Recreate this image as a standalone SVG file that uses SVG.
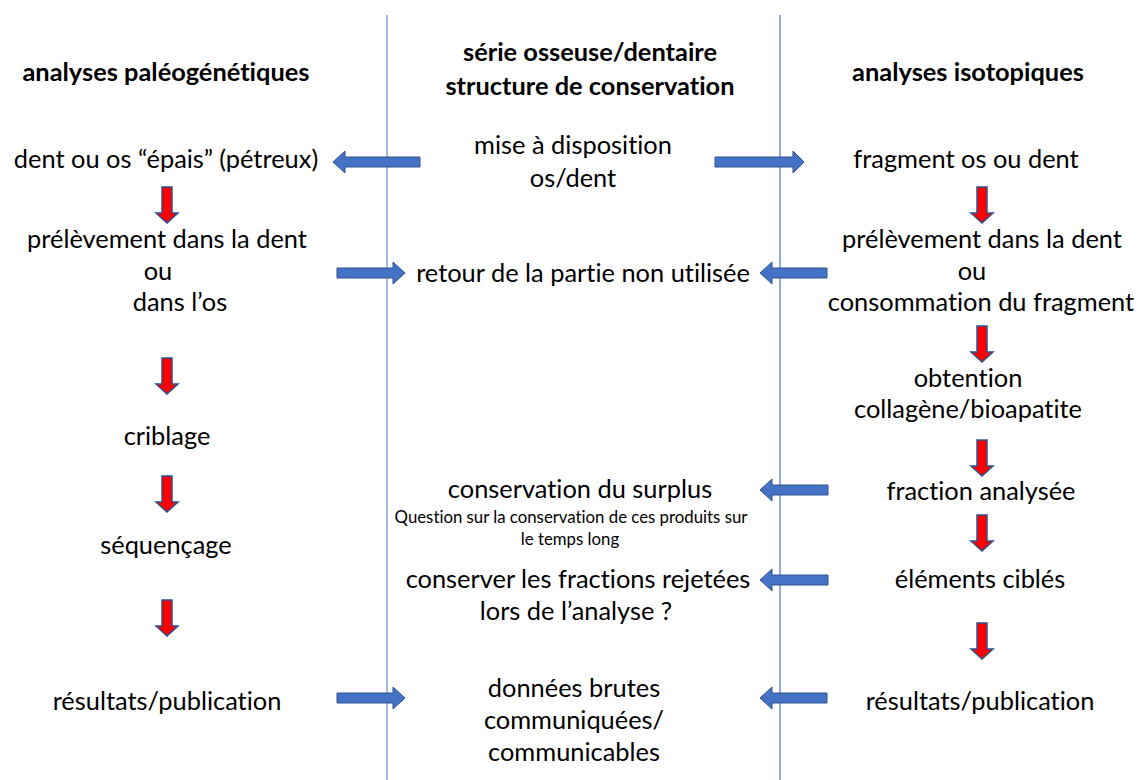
<svg xmlns="http://www.w3.org/2000/svg" width="1138" height="780" viewBox="0 0 1138 780">
<style>
text{font-family:Lato,"Liberation Sans",sans-serif;font-size:25.4px;fill:#000;text-anchor:middle;font-variant-ligatures:none}
.b{font-weight:bold}
.s{font-size:16.8px}
.ba{fill:#4472C4;stroke:#2F528F;stroke-width:1}
.ra{fill:#FF0000;stroke:#2F528F;stroke-width:1.5}
</style>
<defs>
<path id="down" d="M-5,0 H5 V26 H11 L0,36 L-11,26 H-5 Z"/>
</defs>
<rect width="1138" height="780" fill="#fff"/>
<g id="dividers">
<line x1="387" y1="15" x2="387" y2="780" stroke="#4472C4" stroke-width="1"/>
<line x1="780" y1="15" x2="780" y2="780" stroke="#8FAADC" stroke-width="2"/>
</g>
<g id="headers">
<text class="b" x="166" y="81">analyses paléogénétiques</text>
<text class="b" x="590" y="61">série osseuse/dentaire</text>
<text class="b" x="590" y="95">structure de conservation</text>
<text class="b" x="968" y="81">analyses isotopiques</text>
</g>
<g id="left-col">
<g id="n-dent"><text x="166" y="168">dent ou os “épais” (pétreux)</text></g>
<g id="n-prel-l"><text x="167" y="248">prélèvement dans la dent</text><text x="158" y="280">ou</text><text x="180" y="311">dans l’os</text></g>
<g id="n-crib"><text x="167" y="445">criblage</text></g>
<g id="n-seq"><text x="166" y="554">séquençage</text></g>
<g id="n-res-l"><text x="167" y="710">résultats/publication</text></g>
</g>
<g id="mid-col">
<g id="n-mise"><text x="573" y="154">mise à disposition</text><text x="573" y="187">os/dent</text></g>
<g id="n-retour"><text x="583" y="282">retour de la partie non utilisée</text></g>
<g id="n-surplus"><text x="580" y="498">conservation du surplus</text><text class="s" x="571" y="523">Question sur la conservation de ces produits sur</text><text class="s" x="570" y="545">le temps long</text></g>
<g id="n-rejet"><text x="578" y="588">conserver les fractions rejetées</text><text x="576" y="620">lors de l’analyse ?</text></g>
<g id="n-donnees"><text x="574" y="697">données brutes</text><text x="574" y="729">communiquées/</text><text x="574" y="761">communicables</text></g>
</g>
<g id="right-col">
<g id="n-frag"><text x="966" y="168">fragment os ou dent</text></g>
<g id="n-prel-r"><text x="982" y="248">prélèvement dans la dent</text><text x="972" y="280">ou</text><text x="981" y="311">consommation du fragment</text></g>
<g id="n-obt"><text x="968" y="387">obtention</text><text x="968" y="418">collagène/bioapatite</text></g>
<g id="n-frac"><text x="981" y="500">fraction analysée</text></g>
<g id="n-elem"><text x="980" y="588">éléments ciblés</text></g>
<g id="n-res-r"><text x="980" y="710">résultats/publication</text></g>
</g>
<g id="connectors">
<polygon class="ba" points="420,157 345,157 345,151 333,162 345,173 345,167 420,167"/>
<polygon class="ba" points="715,157 793,157 793,151 804,162 793,173 793,167 715,167"/>
<polygon class="ba" points="337,268 393,268 393,262 405,273 393,284 393,278 337,278"/>
<polygon class="ba" points="827,268 772,268 772,262 760,273 772,284 772,278 827,278"/>
<polygon class="ba" points="828,485 772,485 772,479 760,490 772,501 772,495 828,495"/>
<polygon class="ba" points="828,575 772,575 772,569 760,580 772,591 772,585 828,585"/>
<polygon class="ba" points="337,693 393,693 393,687 405,698 393,709 393,703 337,703"/>
<polygon class="ba" points="827,693 772,693 772,687 760,698 772,709 772,703 827,703"/>
<use href="#down" class="ra" x="167" y="187"/>
<use href="#down" class="ra" x="167" y="358"/>
<use href="#down" class="ra" x="167" y="476"/>
<use href="#down" class="ra" x="167" y="600"/>
<use href="#down" class="ra" x="982" y="187"/>
<use href="#down" class="ra" x="982" y="326"/>
<use href="#down" class="ra" x="982" y="440"/>
<use href="#down" class="ra" x="982" y="515"/>
<use href="#down" class="ra" x="982" y="623"/>
</g>
</svg>
